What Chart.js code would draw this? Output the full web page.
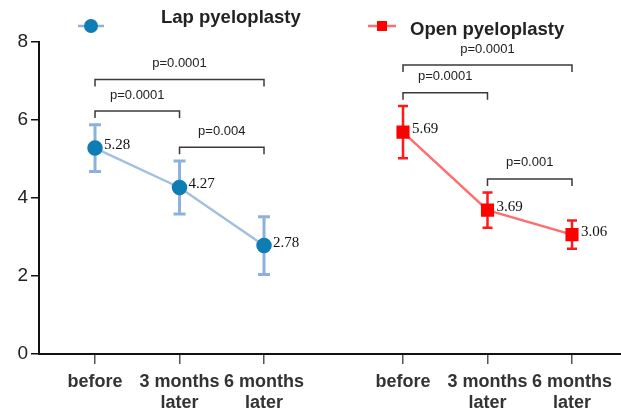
<!DOCTYPE html>
<html><head><meta charset="utf-8">
<script src="https://cdn.jsdelivr.net/npm/chart.js@4/dist/chart.umd.min.js"></script>
<style>html,body{margin:0;padding:0;background:#fff}#wrap{width:621px;height:411px}</style>
</head><body><div id="wrap"><canvas id="c" width="621" height="411"></canvas></div>
<script>
// ---- data ----
const categories = [['before'], ['3 months', 'later'], ['6 months', 'later']];
const seriesNames = ['Lap pyeloplasty', 'Open pyeloplasty'];
const lapMean = [5.28, 4.27, 2.78];
const lapErr  = [0.60, 0.68, 0.74];
const openMean = [5.69, 3.69, 3.06];
const openErr  = [0.67, 0.45, 0.36];
const yTicks = [0, 2, 4, 6, 8];
// significance brackets (category index from/to, level in y units, text)
const lapBrFrom = [0, 0, 1], lapBrTo = [2, 1, 2], lapBrLevel = [7.04, 6.23, 5.30];
const lapBrText = ['p=0.0001', 'p=0.0001', 'p=0.004'];
const openBrFrom = [0, 0, 1], openBrTo = [2, 1, 2], openBrLevel = [7.41, 6.70, 4.49];
const openBrText = ['p=0.0001', 'p=0.0001', 'p=0.001'];

// ---- layout constants ----
const GROUP_GAP = 3.645;
const lapX = categories.map((c, i) => i);
const openX = categories.map((c, i) => i + GROUP_GAP);
const tickPos = lapX.concat(openX);

const LAP_LINE = '#a3bfe0', LAP_ERR = '#8db1da', LAP_PT = '#0e7db3';
const OPEN_LINE = '#ff6d6d', OPEN_ERR = '#ff1a1a', OPEN_PT = '#ff0000';

const sans = "'Liberation Sans', Arial, sans-serif";
const serif = "'Liberation Serif', 'Times New Roman', serif";

const extras = {
  id: 'extras',
  beforeDatasetsDraw(chart) {
    const ctx = chart.ctx, xs = chart.scales.x, ys = chart.scales.y;
    const groups = [
      {xv: lapX, m: lapMean, e: lapErr, col: LAP_ERR, w: 3, cap: 6},
      {xv: openX, m: openMean, e: openErr, col: OPEN_ERR, w: 2.5, cap: 5}
    ];
    ctx.save();
    groups.forEach(g => {
      ctx.strokeStyle = g.col; ctx.lineWidth = g.w; ctx.lineCap = 'butt';
      g.xv.forEach((xv, i) => {
        const x = xs.getPixelForValue(xv);
        const yt = ys.getPixelForValue(g.m[i] + g.e[i]);
        const yb = ys.getPixelForValue(g.m[i] - g.e[i]);
        ctx.beginPath();
        ctx.moveTo(x, yt); ctx.lineTo(x, yb);
        ctx.moveTo(x - g.cap, yt); ctx.lineTo(x + g.cap, yt);
        ctx.moveTo(x - g.cap, yb); ctx.lineTo(x + g.cap, yb);
        ctx.stroke();
      });
    });
    ctx.restore();
  },
  afterDatasetsDraw(chart) {
    const ctx = chart.ctx, xs = chart.scales.x, ys = chart.scales.y;
    ctx.save();
    // value labels
    ctx.font = '15px ' + serif; ctx.fillStyle = '#111';
    ctx.textAlign = 'left'; ctx.textBaseline = 'middle';
    [[lapX, lapMean], [openX, openMean]].forEach(([xv, m]) => {
      xv.forEach((v, i) => {
        ctx.fillText(m[i].toFixed(2), xs.getPixelForValue(v) + 9, ys.getPixelForValue(m[i]) - 3);
      });
    });
    // brackets
    const brs = [[lapX, lapBrFrom, lapBrTo, lapBrLevel, lapBrText], [openX, openBrFrom, openBrTo, openBrLevel, openBrText]];
    ctx.strokeStyle = '#3a3a3a'; ctx.lineWidth = 1.5;
    ctx.font = '13px ' + sans; ctx.fillStyle = '#222'; ctx.textAlign = 'center';
    brs.forEach(([xv, f, t, lv, tx]) => {
      f.forEach((fi, k) => {
        const x1 = xs.getPixelForValue(xv[fi]), x2 = xs.getPixelForValue(xv[t[k]]);
        const y = ys.getPixelForValue(lv[k]);
        ctx.beginPath();
        ctx.moveTo(x1, y + 7); ctx.lineTo(x1, y); ctx.lineTo(x2, y); ctx.lineTo(x2, y + 7);
        ctx.stroke();
        ctx.fillText(tx[k], (x1 + x2) / 2, y - 16);
      });
    });
    // legend
    ctx.lineWidth = 2.5;
    ctx.strokeStyle = LAP_ERR;
    ctx.beginPath(); ctx.moveTo(78, 26); ctx.lineTo(104, 26); ctx.stroke();
    ctx.fillStyle = LAP_PT;
    ctx.beginPath(); ctx.arc(91, 26, 7, 0, Math.PI * 2); ctx.fill();
    ctx.strokeStyle = OPEN_LINE;
    ctx.beginPath(); ctx.moveTo(368, 26); ctx.lineTo(396, 26); ctx.stroke();
    ctx.fillStyle = OPEN_PT; ctx.fillRect(377, 21, 10, 10);
    ctx.fillStyle = '#222'; ctx.font = 'bold 18.5px ' + sans; ctx.textAlign = 'left';
    ctx.fillText(seriesNames[0], 161, 18);
    ctx.fillText(seriesNames[1], 410, 30);
    ctx.restore();
  }
};

new Chart(document.getElementById('c'), {
  type: 'line',
  data: {
    datasets: [
      {label: seriesNames[0], data: lapX.map((x, i) => ({x, y: lapMean[i]})),
       borderColor: LAP_LINE, borderWidth: 2.5, pointBackgroundColor: LAP_PT, pointBorderColor: LAP_PT,
       pointRadius: 6.5, pointStyle: 'circle', tension: 0},
      {label: seriesNames[1], data: openX.map((x, i) => ({x, y: openMean[i]})),
       borderColor: OPEN_LINE, borderWidth: 2.5, pointBackgroundColor: OPEN_PT, pointBorderColor: OPEN_PT,
       pointRadius: 7.5, pointStyle: 'rect', tension: 0}
    ]
  },
  options: {
    responsive: false, animation: false, devicePixelRatio: 1,
    layout: {autoPadding: false, padding: {top: 42, left: 0, right: 0, bottom: 0}},
    plugins: {legend: {display: false}, tooltip: {enabled: false}},
    scales: {
      x: {
        type: 'linear', min: -0.663, max: 6.225,
        afterBuildTicks: s => { s.ticks = tickPos.map(v => ({value: v})); },
        afterFit: s => { s.height = 57; s.paddingLeft = 0; s.paddingRight = 0; },
        grid: {drawOnChartArea: false, drawTicks: true, tickLength: 10, color: '#555', lineWidth: 1.5},
        border: {display: true, color: '#111', width: 2},
        ticks: {autoSkip: false, maxRotation: 0, padding: 8, color: '#333',
                font: {family: sans, size: 18, weight: 'bold', lineHeight: 1.15},
                callback: (v, i) => categories[i % 3]}
      },
      y: {
        min: 0, max: 8,
        afterBuildTicks: s => { s.ticks = yTicks.map(v => ({value: v})); },
        afterFit: s => { s.width = 39; s.paddingTop = 0; s.paddingBottom = 0; },
        grid: {drawOnChartArea: false, drawTicks: true, tickLength: 8, color: '#111', lineWidth: 1.5},
        border: {display: true, color: '#111', width: 2},
        ticks: {padding: 3, color: '#222', font: {family: sans, size: 19}}
      }
    }
  },
  plugins: [extras]
});
</script>
</body></html>
